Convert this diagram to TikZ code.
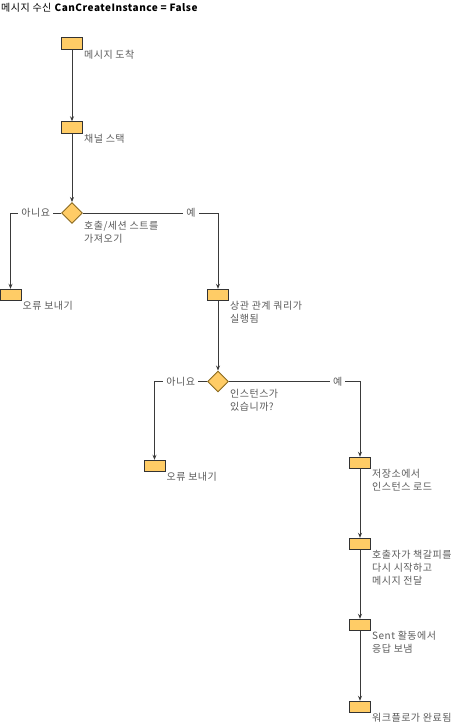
\documentclass[tikz,border=0pt]{standalone}
\usepackage{fontspec}
\setmainfont[LetterSpace=5]{Noto Sans CJK KR}
\usepackage{tikz}
\usetikzlibrary{arrows.meta,shapes.geometric}

\definecolor{boxfill}{HTML}{FFCC66}
\definecolor{boxline}{HTML}{333333}
\definecolor{decline}{HTML}{8A6A20}
\definecolor{linecol}{HTML}{3A3A3A}
\definecolor{txtcol}{HTML}{5A5A5A}

\begin{document}
\begin{tikzpicture}[x=1pt,y=-1pt,
    every node/.style={inner sep=0pt,minimum size=0pt},
    box/.style={draw=boxline,fill=boxfill,line width=0.9pt,minimum width=21pt,minimum height=11.5pt},
    dec/.style={diamond,draw=decline,fill=boxfill,line width=0.9pt,minimum width=21pt,minimum height=21pt,aspect=1},
    lbl/.style={anchor=north west,align=left,text=txtcol,font=\fontsize{10}{13}\selectfont},
    brn/.style={fill=white,inner xsep=3pt,text=txtcol,font=\fontsize{10}{13}\selectfont},
    flow/.style={draw=linecol,line width=0.9pt,-{Stealth[length=5pt,width=4pt]}}]
    \useasboundingbox (0,0) rectangle (463,726);

    \node(title)[anchor=west,font=\fontsize{10}{13}\selectfont] at (1,8) {메시지 수신 \textbf{CanCreateInstance = False}};

    \node(a)[box] at (72,43.5) {};
    \node(b)[box] at (72,127.5) {};
    \node(c)[dec] at (72,213) {};
    \node(e1)[box] at (10.5,295) {};
    \node(f)[box] at (218,295) {};
    \node(g)[dec] at (218,381.5) {};
    \node(e2)[box] at (154.5,466) {};
    \node(h)[box] at (360,463) {};
    \node(i)[box] at (360,544) {};
    \node(j)[box] at (360,625) {};
    \node(k)[box] at (360,707) {};

    \node(al)[lbl] at ([xshift=1pt]a.south east) {메시지 도착};
    \node(bl)[lbl] at ([xshift=1pt]b.south east) {채널 스택};
    \node(cl)[lbl] at ([xshift=1pt,yshift=3pt]c.east |- c.south) {호출/세션 스트를\\가져오기};
    \node(e1l)[lbl] at ([xshift=1pt]e1.south east) {오류 보내기};
    \node(fl)[lbl] at ([xshift=1pt]f.south east) {상관 관계 쿼리가\\실행됨};
    \node(gl)[lbl] at ([xshift=1pt,yshift=3pt]g.east |- g.south) {인스턴스가\\있습니까?};
    \node(e2l)[lbl] at ([xshift=1pt]e2.south east) {오류 보내기};
    \node(hl)[lbl] at ([xshift=1pt]h.south east) {저장소에서\\인스턴스 로드};
    \node(il)[lbl] at ([xshift=1pt]i.south east) {호출자가 책갈피를\\다시 시작하고\\메시지 전달};
    \node(jl)[lbl] at ([xshift=1pt]j.south east) {Sent 활동에서\\응답 보냄};
    \node(kl)[lbl] at ([xshift=1pt]k.south east) {워크플로가 완료됨};

    \coordinate(cn) at (e1 |- c);
    \coordinate(cy) at (f |- c);
    \coordinate(gn) at (e2 |- g);
    \coordinate(gy) at (h |- g);

    \path[flow](a) -- (b);
    \path[flow](b) -- (c);
    \path[flow](c.west) -- node[brn]{아니요} (cn) -- (e1);
    \path[flow](c.east) -- node[brn,pos=0.8]{예} (cy) -- (f);
    \path[flow](f) -- (g);
    \path[flow](g.west) -- node[brn]{아니요} (gn) -- (e2);
    \path[flow](g.east) -- node[brn,pos=0.83]{예} (gy) -- (h);
    \path[flow](h) -- (i);
    \path[flow](i) -- (j);
    \path[flow](j) -- (k);

  \end{tikzpicture}
\end{document}
